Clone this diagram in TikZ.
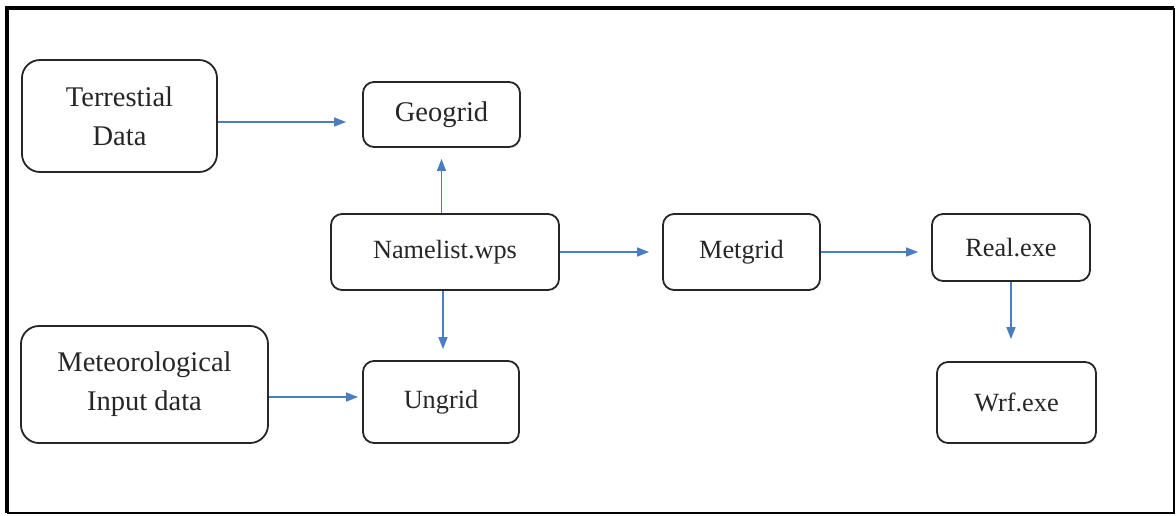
\documentclass[tikz,border=0pt]{standalone}
\usepackage{fontspec}
\setmainfont{LiberationSerif}[Extension=.ttf,UprightFont=*-Regular,BoldFont=*-Bold]
\usetikzlibrary{arrows.meta}
\definecolor{flowblue}{RGB}{74,126,193}
\begin{document}
\begin{tikzpicture}[x=1pt,y=-1pt,
  box/.style={draw=black!85,line width=1.8pt,rounded corners=11pt,inner sep=0pt,
    align=center,text=black!85,font=\fontsize{26.3}{39}\selectfont},
  bigbox/.style={box,rounded corners=18pt,font=\fontsize{28.5}{39}\selectfont},
  flow/.style={draw=flowblue,line width=1.5pt,-{Triangle[length=12pt,width=9pt]}}]
\useasboundingbox (0,0) rectangle (1176,515);
\draw[line width=4pt] (1174,8) -- (7,8) -- (7,513);
\draw[line width=2.5pt] (7,513) -- (1174,513) -- (1174,8);
% input data
\node[bigbox,minimum width=195pt,minimum height=112pt] (terr) at (119.5,116) {Terrestial\\Data};
\node[bigbox,minimum width=247pt,minimum height=117pt] (meteo) at (144.5,384.5) {Meteorological\\Input data};
\node[bigbox,rounded corners=11pt,minimum width=157pt,minimum height=65pt] (geo) at (441.5,114.5) {Geogrid};
% programs
\foreach \name/\x/\y/\w/\h/\txt in {name/445/252/228/76/Namelist.wps,
  ungrid/441/402/156/82/Ungrid,met/741.5/252/157/76/Metgrid,
  real/1011/247.5/158/67/Real.exe,wrf/1016.5/402.5/159/81/Wrf.exe}
 \node[box,minimum width=\w pt,minimum height=\h pt] (\name) at (\x,\y) {\txt};
\draw[flow,shorten >=16pt] ([yshift=-6pt]terr.east) -- ([yshift=-6pt]terr.east -| geo.west);
\draw[flow,shorten >=11pt] (geo.south |- name.north) -- (geo.south);
\draw[flow,shorten >=11pt] ([xshift=-2pt]name.south) -- ([xshift=-2pt]name.south |- ungrid.north);
\draw[flow,shorten >=13pt] (name.east) -- (met.west);
\draw[flow,shorten >=13pt] (met.east) -- (real.west |- met.east);
\draw[flow,shorten >=22pt] (real.south) -- (real.south |- wrf.north);
\draw[flow,shorten >=4pt] ([yshift=-12.5pt]meteo.east) -- ([yshift=-12.5pt]meteo.east -| ungrid.west);
\end{tikzpicture}
\end{document}
